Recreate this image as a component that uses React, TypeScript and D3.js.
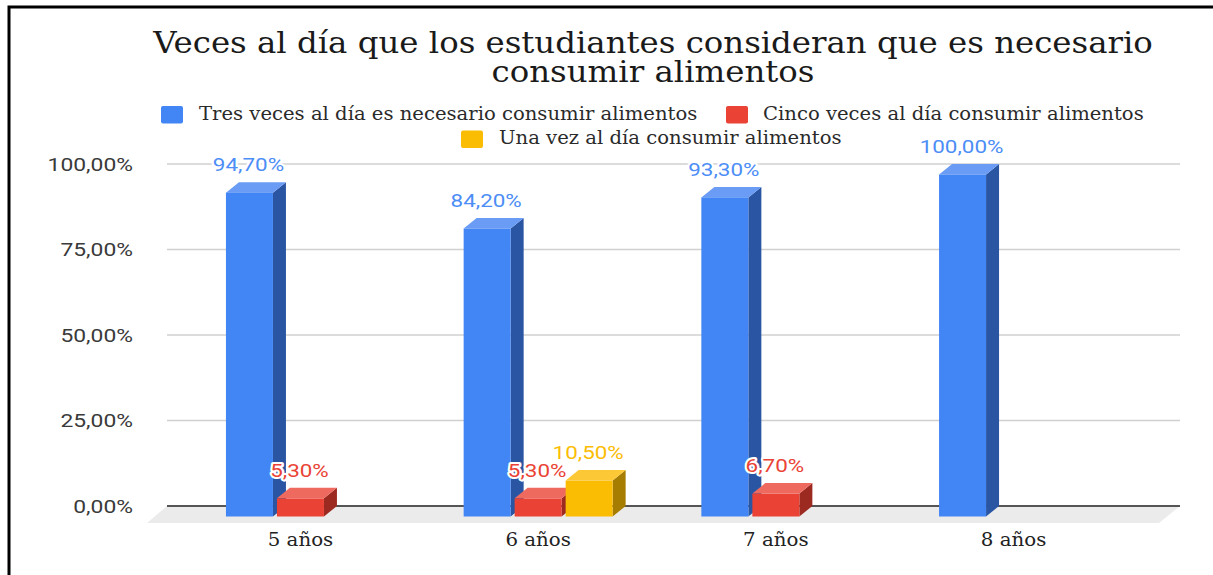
import React from 'react';
import * as d3 from 'd3';

const categories = ['5 años', '6 años', '7 años', '8 años'];
const seriesNames = [
  'Tres veces al día es necesario consumir alimentos',
  'Cinco veces al día consumir alimentos',
  'Una vez al día consumir alimentos',
];
const tresVeces: (number | null)[] = [94.7, 84.2, 93.3, 100];
const cincoVeces: (number | null)[] = [5.3, 5.3, 6.7, null];
const unaVez: (number | null)[] = [null, 10.5, null, null];
const yTicks = [0, 25, 50, 75, 100];
const titleLines = [
  'Veces al día que los estudiantes consideran que es necesario',
  'consumir alimentos',
];

const seriesValues = [tresVeces, cincoVeces, unaVez];
const palette = [
  { front: '#4285f4', side: '#2a55a3', top: '#6a9cf6', label: '#4c8df6' },
  { front: '#ea4335', side: '#9c2a20', top: '#ee6a5f', label: '#ea4335' },
  { front: '#fbbc04', side: '#a67d00', top: '#fcc836', label: '#fbbc04' },
];

const W = 1213;
const H = 575;
const DX = 13;
const DY = 10.5;

const locale = d3.formatLocale({ decimal: ',', thousands: '.', grouping: [3], currency: ['', ''] });
const fmt = (v: number) => locale.format('.2f')(v) + '%';

function SText(props: {
  x: number; y: number; sx?: number; anchor?: string; size: number; family: string;
  fill: string; children: React.ReactNode; halo?: boolean;
}) {
  const { x, y, sx = 1, anchor = 'start', size, family, fill, children, halo } = props;
  return (
    <g transform={`translate(${x},${y}) scale(${sx},1)`}>
      <text
        textAnchor={anchor as any}
        fontSize={size}
        fontFamily={family}
        fill={fill}
        stroke={halo ? '#ffffff' : 'none'}
        strokeWidth={halo ? 4 : 0}
        strokeLinejoin="round"
        style={{ paintOrder: 'stroke' }}
      >
        {children}
      </text>
    </g>
  );
}

export default function App() {
  const yBack = d3.scaleLinear().domain([0, 100]).range([506, 164]);
  const x0 = d3.scaleBand<string>().domain(categories).range([181.7, 1132.5]).padding(0);
  const x1 = d3
    .scaleBand<string>()
    .domain(seriesNames)
    .range([44.25, 44.25 + 149])
    .paddingInner(0.0784)
    .paddingOuter(0);
  const bw = x1.bandwidth();

  const gridX0 = 167;
  const gridX1 = 1180;

  const bars: React.ReactNode[] = [];
  categories.forEach((cat, ci) => {
    seriesNames.forEach((s, si) => {
      const v = seriesValues[si][ci];
      if (v == null) return;
      const c = palette[si];
      const xf = (x0(cat) as number) + (x1(s) as number);
      const yb = yBack(v);
      const yb0 = yBack(0);
      const yf = yb + DY;
      const yf0 = yb0 + DY;
      bars.push(
        <g key={`${ci}-${si}`}>
          <polygon
            points={`${xf + bw},${yf} ${xf + bw + DX},${yb} ${xf + bw + DX},${yb0} ${xf + bw},${yf0}`}
            fill={c.side}
          />
          <polygon
            points={`${xf},${yf} ${xf + bw},${yf} ${xf + bw + DX},${yb} ${xf + DX},${yb}`}
            fill={c.top}
          />
          <rect x={xf} y={yf} width={bw} height={yf0 - yf} fill={c.front} />
        </g>
      );
    });
  });

  const labels: React.ReactNode[] = [];
  categories.forEach((cat, ci) => {
    seriesNames.forEach((s, si) => {
      const v = seriesValues[si][ci];
      if (v == null) return;
      const xf = (x0(cat) as number) + (x1(s) as number);
      labels.push(
        <SText
          key={`l-${ci}-${si}`}
          x={xf + bw / 2 - 1}
          y={yBack(v) - 11}
          sx={1.18}
          anchor="middle"
          size={19}
          family="Roboto, 'Liberation Sans', sans-serif"
          fill={palette[si].label}
          halo
        >
          {fmt(v)}
        </SText>
      );
    });
  });

  const legendItems = [
    { sq: 161, y: 106, tx: 199, ty: 120, si: 0 },
    { sq: 726, y: 106, tx: 763, ty: 120, si: 1 },
    { sq: 461, y: 130.5, tx: 499, ty: 144, si: 2 },
  ];

  const serif = "'DejaVu Serif', serif";

  return (
    <svg
      width={W}
      height={H}
      viewBox={`0 0 ${W} ${H}`}
      style={{ position: 'absolute', left: 0, top: 0, background: '#fff' }}
    >
      <rect x={0} y={0} width={W} height={H} fill="#fff" />
      <rect x={9} y={7} width={W + 20} height={H + 20} fill="none" stroke="#000" strokeWidth={3} />

      <g transform={`translate(653,53) scale(1.08,1)`}>
        <text textAnchor="middle" fontSize={30} fontFamily={serif} fill="#1a1a1a">
          {titleLines.map((t, i) => (
            <tspan key={t} x={0} dy={i === 0 ? 0 : 29}>
              {t}
            </tspan>
          ))}
        </text>
      </g>

      {legendItems.map((it) => (
        <g key={it.si}>
          <rect x={it.sq} y={it.y} width={22} height={17.5} rx={2} fill={palette[it.si].front} />
          <SText x={it.tx} y={it.ty} sx={1.09} size={18} family={serif} fill="#2a2a2a">
            {seriesNames[it.si]}
          </SText>
        </g>
      ))}

      <polygon
        points={`${gridX0},${yBack(0)} ${gridX1},${yBack(0)} ${gridX1 - 21},${yBack(0) + 17} ${gridX0 - 20},${yBack(0) + 17}`}
        fill="#ebebeb"
      />

      {yTicks.filter((t) => t !== 0).map((t) => (
        <line key={t} x1={gridX0} x2={gridX1} y1={yBack(t)} y2={yBack(t)} stroke="#d0d0d0" strokeWidth={1.5} />
      ))}
      <line x1={gridX0} x2={gridX1} y1={yBack(0)} y2={yBack(0)} stroke="#555" strokeWidth={2} />

      {yTicks.map((t) => (
        <SText
          key={`yt-${t}`}
          x={133}
          y={yBack(t) + 6.5}
          sx={1.27}
          anchor="end"
          size={18}
          family="Roboto, 'Liberation Sans', sans-serif"
          fill="#3a3a3a"
        >
          {fmt(t)}
        </SText>
      ))}

      {bars}
      {labels}

      {categories.map((cat) => (
        <SText
          key={`x-${cat}`}
          x={(x0(cat) as number) + 44.25 + 149 / 2}
          y={546}
          sx={1.1}
          anchor="middle"
          size={18}
          family={serif}
          fill="#222"
        >
          {cat}
        </SText>
      ))}
    </svg>
  );
}
